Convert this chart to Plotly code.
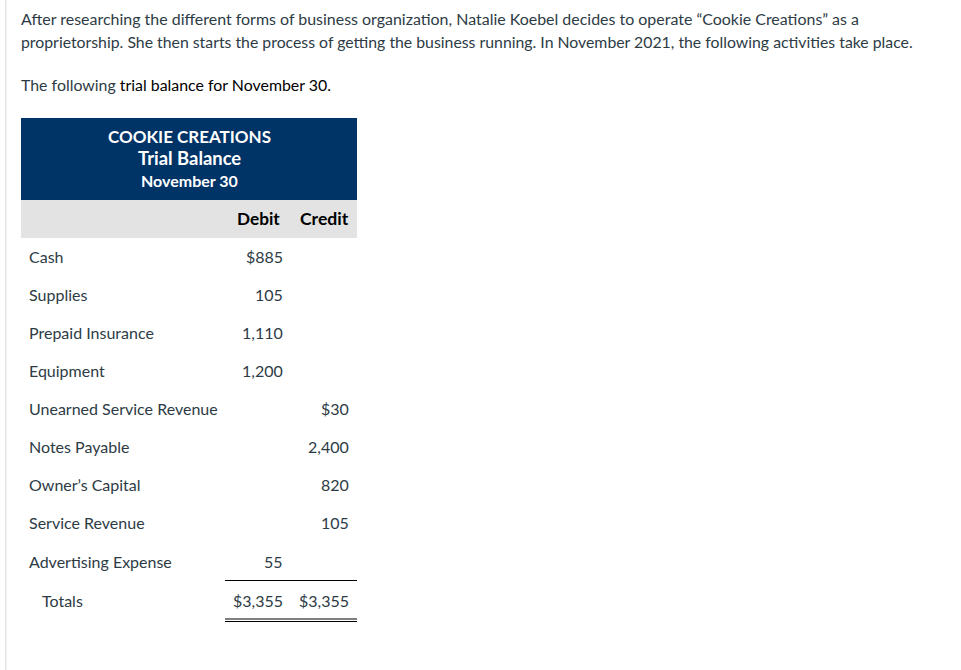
import plotly.graph_objects as go

# text
para_lines = [
    "After researching the different forms of business organization, Natalie Koebel decides to operate “Cookie Creations” as a",
    "proprietorship. She then starts the process of getting the business running. In November 2021, the following activities take place.",
]
para_sizes = [15.96, 15.82]
intro_plain = "The following "
intro_dark = "trial balance for November 30."
title_lines = ["COOKIE CREATIONS", "Trial Balance", "November 30"]
title_sizes = [17, 18.4, 16]
col_headers = ["Debit", "Credit"]

# table rows
accounts = ["Cash", "Supplies", "Prepaid Insurance", "Equipment", "Unearned Service Revenue",
            "Notes Payable", "Owner’s Capital", "Service Revenue", "Advertising Expense", "Totals"]
debit = ["$885", "105", "1,110", "1,200", "", "", "", "", "55", "$3,355"]
credit = ["", "", "", "", "$30", "2,400", "820", "105", "", "$3,355"]

TEXT = "#2d3b45"
NAVY = "#003366"
GREY = "#e3e3e3"
FONT = "Lato"

fig = go.Figure()


def label(x, y, text, anchor="left", color=TEXT, size=16):
    fig.add_annotation(x=x, y=y, text=text, xref="x", yref="y", showarrow=False,
                       xanchor=anchor, yanchor="middle", borderpad=0,
                       font=dict(family=FONT, size=size, color=color))


def rect(x0, y0, x1, y1, color):
    fig.add_shape(type="rect", x0=x0, x1=x1, y0=y0, y1=y1, xref="x", yref="y",
                  fillcolor=color, line_width=0, layer="below")


def hline(y, x0=225, x1=357, width=1):
    fig.add_shape(type="line", x0=x0, x1=x1, y0=y, y1=y, xref="x", yref="y",
                  line=dict(color="black", width=width))


# page rule on the left
rect(5, 0, 6.5, 670, "#e6e6e6")

# paragraphs
label(20, 18, para_lines[0], size=para_sizes[0])
label(20, 41, para_lines[1], size=para_sizes[1])
label(20, 84, f'{intro_plain}<span style="color:black">{intro_dark}</span>', size=15.9)

# table header
rect(21, 118, 357, 200, NAVY)
rect(21, 200, 357, 238, GREY)
for i, line in enumerate(title_lines):
    label(189, 136 + 22 * i, f"<b>{line}</b>", anchor="center", color="white", size=title_sizes[i])
label(281, 218, f"<b>{col_headers[0]}</b>", anchor="right", color="black", size=17.2)
label(350, 218, f"<b>{col_headers[1]}</b>", anchor="right", color="black", size=17.6)

# table body
for i, name in enumerate(accounts):
    y = 256 + 38 * i + (1 if i == 8 else 0) + (2 if i == 9 else 0)
    label(41 if name == "Totals" else 28, y, name)
    if debit[i]:
        label(284, y, debit[i], anchor="right")
    if credit[i]:
        label(350, y, credit[i], anchor="right")

hline(580.5)
hline(619)
hline(621.5)

fig.update_layout(
    width=961, height=670,
    margin=dict(l=0, r=0, t=0, b=0),
    paper_bgcolor="white", plot_bgcolor="white",
    showlegend=False,
    xaxis=dict(visible=False, range=[0, 961]),
    yaxis=dict(visible=False, range=[670, 0]),
)

fig.write_html("out.html", config={"displayModeBar": False},
               post_script="document.body.style.margin='0';document.body.style.overflow='hidden';")
